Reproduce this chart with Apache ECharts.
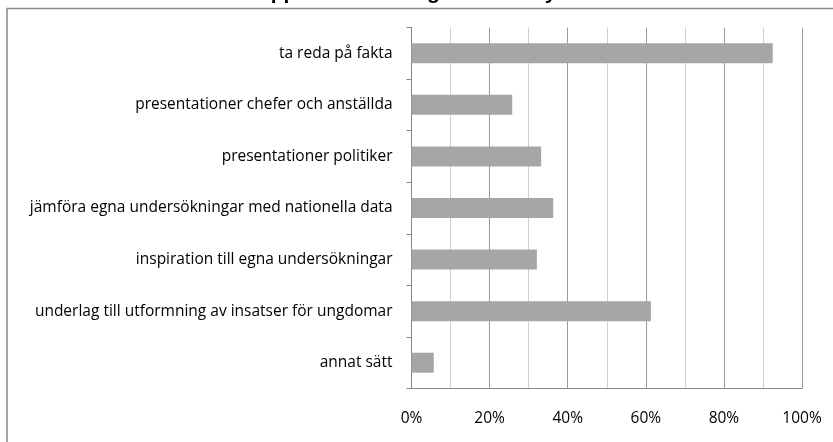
<!DOCTYPE html>
<html>
<head>
<meta charset="utf-8">
<script src="https://cdn.jsdelivr.net/npm/echarts@6/dist/echarts.min.js"></script>
<style>
html,body{margin:0;padding:0;background:#fff;}
#chart{width:833px;height:442px;}
</style>
</head>
<body>
<div id="chart"></div>
<script>
var titleText = 'rapporter eller Unga med attityd?';
var categories = [
  'ta reda på fakta',
  'presentationer chefer och anställda',
  'presentationer politiker',
  'jämföra egna undersökningar med nationella data',
  'inspiration till egna undersökningar',
  'underlag till utformning av insatser för ungdomar',
  'annat sätt'
];
var values = [0.925, 0.258, 0.332, 0.363, 0.321, 0.613, 0.057];
var xTicks = [0, 0.2, 0.4, 0.6, 0.8, 1];

var chart = echarts.init(document.getElementById('chart'));
var FONT = 'Open Sans';
chart.setOption({
  animation: false,
  backgroundColor: '#fff',
  title: {
    text: titleText,
    left: 'center',
    top: -17,
    padding: 0,
    textStyle: {fontFamily: 'Liberation Sans', fontWeight: 'bold', fontSize: 21, color: '#000'}
  },
  graphic: [{
    type: 'rect',
    shape: {x: 7, y: 8.5, width: 900, height: 500},
    style: {fill: 'none', stroke: '#888', lineWidth: 1.5},
    silent: true, z: -1
  }],
  grid: {left: 411.5, right: 31, top: 27.5, bottom: 53.5, containLabel: false},
  xAxis: {
    type: 'value',
    min: 0, max: 1, interval: 0.2,
    axisLine: {show: true, lineStyle: {color: '#868686', width: 1}},
    axisTick: {show: false},
    axisLabel: {
      margin: 22,
      fontFamily: FONT, fontSize: 15.5, color: '#000',
      formatter: function (v) { return Math.round(v * 100) + '%'; }
    },
    splitLine: {show: true, lineStyle: {color: '#9a9a9a', width: 1}},
    minorTick: {show: false, splitNumber: 2},
    minorSplitLine: {show: true, lineStyle: {color: '#d0d0d0', width: 1}}
  },
  yAxis: {
    type: 'category',
    data: categories,
    inverse: true,
    axisLine: {show: true, lineStyle: {color: '#868686', width: 1}},
    axisTick: {show: true, length: 5, lineStyle: {color: '#868686'}},
    axisLabel: {margin: 19, fontFamily: FONT, fontSize: 15.5, color: '#000'},
    splitLine: {show: false}
  },
  series: [{
    type: 'bar',
    data: values,
    barWidth: 20,
    itemStyle: {color: '#a6a6a6'}
  }]
});
</script>
</body>
</html>
